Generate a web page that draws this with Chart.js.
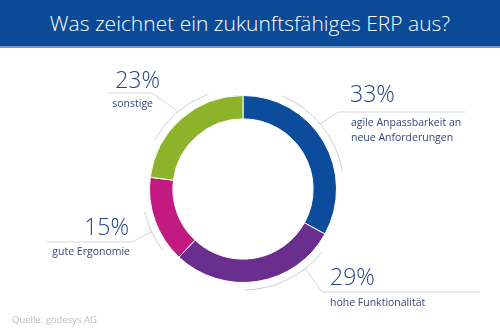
<!DOCTYPE html>
<html lang="de">
<head>
<meta charset="utf-8">
<title>Was zeichnet ein zukunftsfähiges ERP aus?</title>
<script src="https://cdn.jsdelivr.net/npm/chart.js@4"></script>
<style>
  html, body { margin: 0; padding: 0; background: #fff; }
  #wrap { position: relative; width: 500px; height: 333px; overflow: hidden; }
  #header {
    position: absolute; left: 0; top: 0; width: 500px; height: 46px;
    background: #0b4a97; border-bottom: 2px solid #6f9bd1;
    color: #fff; font-family: "Open Sans", sans-serif; font-weight: 300;
    font-size: 21px; line-height: 46px; text-align: center;
  }
  #chart { position: absolute; left: 0; top: 0; }
</style>
</head>
<body>
<div id="wrap">
  <canvas id="chart" width="500" height="333"></canvas>
  <div id="header">Was zeichnet ein zukunftsfähiges ERP aus?</div>
</div>
<script>
const categories = [
  ['agile Anpassbarkeit an', 'neue Anforderungen'],
  ['hohe Funktionalität'],
  ['gute Ergonomie'],
  ['sonstige']
];
const shares = [33, 29, 15, 23];
const sliceColors = ['#0b4c9c', '#6a2e8e', '#c31a82', '#8db32b'];
const sourceNote = 'Quelle: godesys AG';

// callout geometry, offsets relative to the doughnut centre, angles clockwise from 12 o'clock
const callouts = [
  { arc: [23, 80],   attach: 50,  elbow: [95, -77],   lineTo: 222,  align: 'left',  pct: [107, -87],  desc: [108, -63] },
  { arc: [129, 179], attach: 142, elbow: [79, 103],   lineTo: 237,  align: 'left',  pct: [87, 96],    desc: [87, 117] },
  { arc: [233, 257], attach: 245, elbow: [-111, 53],  lineTo: -196, align: 'right', pct: [-114, 46],  desc: [-113, 66] },
  { arc: [299, 340], attach: 320, elbow: [-91, -96],  lineTo: -136, align: 'right', pct: [-83, -101], desc: [-90, -82] }
];

const toRad = deg => (deg - 90) * Math.PI / 180;

const calloutPlugin = {
  id: 'callouts',
  afterDraw(chart) {
    const ctx = chart.ctx;
    const arc = chart.getDatasetMeta(0).data[0];
    const cx = arc.x, cy = arc.y;
    const r = arc.outerRadius + 7.5;

    ctx.save();
    callouts.forEach((c, i) => {
      // thin guide arc outside the ring
      ctx.strokeStyle = '#c9ced8';
      ctx.lineWidth = 1;
      ctx.beginPath();
      ctx.arc(cx, cy, r, toRad(c.arc[0]), toRad(c.arc[1]));
      ctx.stroke();

      // leader line: from the arc to the elbow, then horizontal
      const a = toRad(c.attach);
      const ex = cx + c.elbow[0], ey = cy + c.elbow[1];
      ctx.strokeStyle = '#d3d7de';
      ctx.beginPath();
      ctx.moveTo(cx + Math.cos(a) * r, cy + Math.sin(a) * r);
      ctx.lineTo(ex, ey);
      ctx.lineTo(cx + c.lineTo, ey);
      ctx.stroke();

      // percentage and description
      ctx.textAlign = c.align;
      ctx.textBaseline = 'alphabetic';
      ctx.fillStyle = '#1f3f88';
      ctx.font = '300 23px "Open Sans", sans-serif';
      ctx.fillText(shares[i] + '%', cx + c.pct[0], cy + c.pct[1]);

      ctx.fillStyle = '#35477a';
      ctx.font = '400 10.5px "Open Sans", sans-serif';
      categories[i].forEach((line, k) => {
        ctx.fillText(line, cx + c.desc[0], cy + c.desc[1] + k * 15);
      });
    });

    ctx.textAlign = 'left';
    ctx.fillStyle = '#bdbdbd';
    ctx.font = '400 9.5px "Open Sans", sans-serif';
    ctx.fillText(sourceNote, 12, 323);
    ctx.restore();
  }
};

new Chart(document.getElementById('chart'), {
  type: 'doughnut',
  data: {
    labels: categories.map(c => c.join(' ')),
    datasets: [{
      data: shares,
      backgroundColor: sliceColors,
      borderColor: '#ffffff',
      borderWidth: 1,
      hoverOffset: 0
    }]
  },
  options: {
    responsive: false,
    animation: false,
    cutout: '75%',
    layout: { padding: { top: 95, bottom: 50, left: 149, right: 163 } },
    plugins: {
      legend: { display: false },
      tooltip: { enabled: false }
    }
  },
  plugins: [calloutPlugin]
});
</script>
</body>
</html>
